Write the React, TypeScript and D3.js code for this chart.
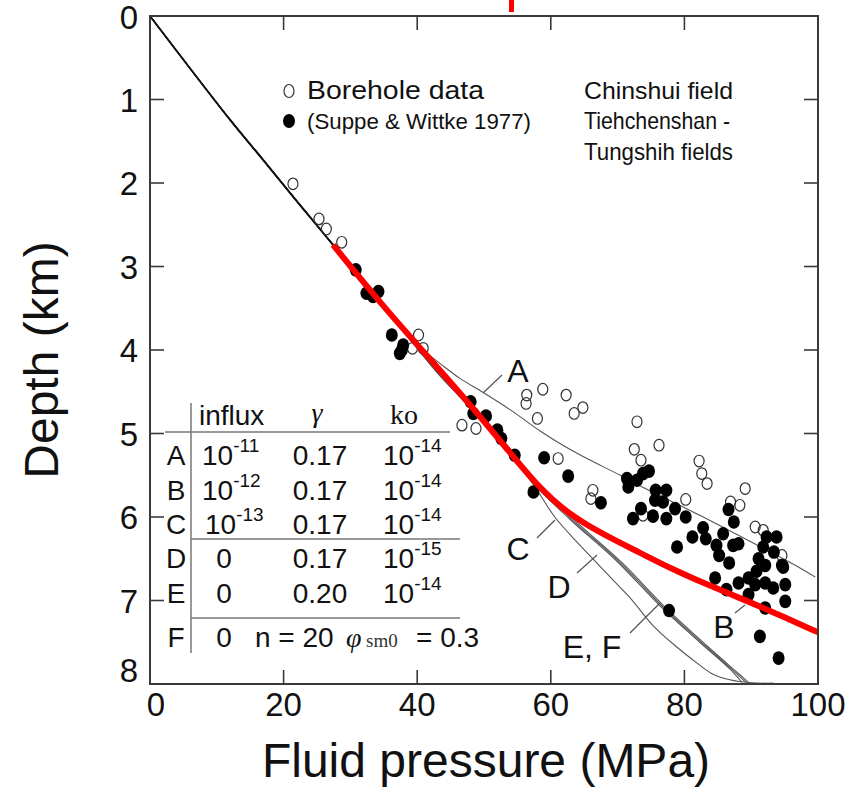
import React from 'react';
import * as d3 from 'd3';

type P = [number, number];

const xTicks = [0, 20, 40, 60, 80, 100];
const yTicks = [0, 1, 2, 3, 4, 5, 6, 7, 8];

// shared hydrostatic trunk of all model curves
const trunk: P[] = [[0, 0], [12, 1.245], [16.9, 1.72], [22, 2.22], [27.4, 2.74]];
const trunkLower: P[] = [[33, 3.3], [38, 3.78]];

const tailA: P[] = [[40.4, 3.97], [43.4, 4.16], [46.4, 4.34], [49.9, 4.51], [54, 4.72], [58.4, 4.97], [62, 5.15], [65.4, 5.3], [70.4, 5.5], [73.4, 5.63], [78, 5.81], [82.3, 5.98], [90, 6.3], [97.3, 6.61], [99.6, 6.72]];
const tailB: P[] = [[43.4, 4.24], [48.4, 4.68], [53.4, 5.16], [57.9, 5.64], [62.4, 5.95], [67.4, 6.18], [73.4, 6.43], [78.3, 6.63], [83.4, 6.81], [88.3, 6.97], [93.3, 7.14], [100, 7.38]];
const tailC: P[] = [[43, 4.27], [48.2, 4.72], [53, 5.17], [57.3, 5.6], [60.6, 6.0], [64.5, 6.35], [68.9, 6.72], [72, 6.98], [75.3, 7.3], [78.9, 7.56], [81.9, 7.75], [84, 7.87], [86.8, 7.95], [90, 7.985], [93.3, 7.99]];
const tailD: P[] = [[43, 4.27], [48.4, 4.72], [53.2, 5.17], [57.4, 5.6], [62.9, 6.03], [69.9, 6.53], [76.3, 7.06], [82.3, 7.5], [86.8, 7.82], [88.6, 7.98]];
const tailE: P[] = [[43.1, 4.27], [48.6, 4.72], [53.5, 5.17], [57.8, 5.6], [63.3, 6.04], [70.3, 6.54], [76.7, 7.07], [82.8, 7.52], [87.2, 7.83], [89.2, 7.98]];
const tailF: P[] = [[43.2, 4.27], [48.8, 4.72], [53.8, 5.17], [58.1, 5.6], [63.6, 6.04], [70.7, 6.55], [77.1, 7.08], [83.2, 7.53], [87.6, 7.84], [89.6, 7.98]];

const redFit: P[] = [[27.4, 2.74], [35, 3.49], [43.4, 4.24], [48.4, 4.7], [53.4, 5.18], [57.9, 5.62], [62.4, 5.95], [67.4, 6.19], [73.4, 6.43], [78.3, 6.63], [83.4, 6.81], [88.3, 6.97], [93.3, 7.14], [100, 7.38]];

const borehole: P[] = [
  [21.4, 2.01], [25.3, 2.43], [26.4, 2.55], [28.7, 2.71], [40.2, 3.82], [40.9, 3.98], [39.3, 3.98],
  [46.7, 4.9], [48.8, 4.94], [56.4, 4.54], [56.3, 4.64], [58.8, 4.47], [62.3, 4.54], [63.5, 4.76],
  [64.8, 4.69], [58.0, 4.82], [61.1, 5.3], [66.3, 5.68], [66.0, 5.78], [72.9, 4.86], [72.5, 5.19],
  [73.5, 5.32], [76.2, 5.14], [82.2, 5.33], [82.6, 5.48], [83.4, 5.6], [80.2, 5.79], [73.8, 5.98],
  [89.1, 5.66], [86.9, 5.82], [88.3, 5.86], [90.6, 6.12], [91.8, 6.16], [94.6, 6.46],
];

const suppe: P[] = [
  [30.8, 3.04], [32.4, 3.32], [33.4, 3.36], [34.2, 3.30], [36.2, 3.82], [37.7, 4.0], [37.9, 3.94], [37.4, 4.04],
  [48.0, 4.62], [48.4, 4.76], [50.3, 4.79], [52.0, 4.96], [52.6, 5.06], [54.6, 5.26], [59.0, 5.29],
  [62.6, 5.51], [57.4, 5.70], [67.5, 5.83],
  [71.4, 5.54], [71.6, 5.64], [72.9, 5.56], [73.8, 5.48], [74.7, 5.45], [72.3, 6.02], [73.5, 5.9],
  [75.3, 5.99], [75.7, 5.68], [77.3, 5.68], [75.6, 5.8], [76.8, 5.82], [77.3, 6.02], [78.6, 5.9],
  [80.2, 6.0], [78.9, 6.36], [81.2, 6.24], [82.8, 6.13], [83.2, 6.26], [84.8, 6.34], [85.8, 6.2],
  [86.6, 5.91], [87.4, 6.06], [85.2, 6.46], [86.7, 6.55], [87.3, 6.34], [88.1, 6.32], [92.3, 6.24],
  [93.8, 6.24], [91.8, 6.36], [93.4, 6.42], [91.1, 6.5], [92.1, 6.58], [94.6, 6.58],
  [84.6, 6.73], [86.3, 6.87], [88.1, 6.79], [89.6, 6.73], [90.8, 6.65], [94.8, 6.6], [90.6, 6.81],
  [92.1, 6.79], [93.3, 6.85], [95.1, 6.81], [89.6, 6.93], [92.1, 7.09], [95.1, 7.01], [91.3, 7.43],
  [94.1, 7.69], [77.7, 7.12],
];

const SANS = 'Liberation Sans, Arial, Helvetica, sans-serif';
const SERIF = 'Liberation Serif, Times New Roman, serif';

export default function App() {
  const W = 863, H = 801;
  const x = d3.scaleLinear().domain([0, 100]).range([150, 818]);
  const y = d3.scaleLinear().domain([0, 8]).range([16, 684]);
  const line = d3.line<P>().x(d => x(d[0])).y(d => y(d[1])).curve(d3.curveCatmullRom.alpha(0.5));
  const smooth = d3.line<P>().x(d => x(d[0])).y(d => y(d[1])).curve(d3.curveBasis);
  const full = (tail: P[]) => line([...trunk, ...trunkLower, ...tail]) || '';

  const frame = '#3a3a3a';
  const curveCol = '#555';
  const tl = 14;

  const sup = (base: string, exp: string, xx: number, yy: number) => (
    <text x={xx} y={yy} fontFamily={SANS} fontSize={28} fill="#111">
      {base}
      <tspan dy={-13} fontSize={19}>{exp}</tspan>
    </text>
  );

  const rows = [
    { l: 'A', yb: 465 }, { l: 'B', yb: 500 }, { l: 'C', yb: 534 },
    { l: 'D', yb: 568 }, { l: 'E', yb: 603 }, { l: 'F', yb: 647 },
  ];

  return (
    <svg width={W} height={H} style={{ position: 'absolute', left: 0, top: 0, background: '#fff' }}>
      <rect x={0} y={0} width={W} height={H} fill="#fff" />
      {/* red fragment at top (cut-off title) */}
      <rect x={509} y={0} width={5} height={12} fill="#ff0000" />

      {/* model curves */}
      <g fill="none" stroke={curveCol} strokeWidth={1.1}>
        <path d={full(tailA)} />
        <path d={full(tailB)} />
        <path d={full(tailC)} />
        <path d={full(tailD)} />
        <path d={full(tailE)} />
        <path d={full(tailF)} />
      </g>
      <path d={line(trunk) || ''} fill="none" stroke="#111" strokeWidth={2} />

      {/* leader lines */}
      <g stroke={curveCol} strokeWidth={1.2}>
        <line x1={483} y1={393} x2={502} y2={375} />
        <line x1={735} y1={613} x2={745} y2={605} />
        <line x1={537} y1={538} x2={555} y2={520} />
        <line x1={577} y1={573} x2={597} y2={555} />
        <line x1={630} y1={633} x2={660} y2={603} />
      </g>
      <g fontFamily={SANS} fontSize={32} fill="#111" textAnchor="middle">
        <text x={518} y={382}>A</text>
        <text x={724} y={638}>B</text>
        <text x={518} y={560}>C</text>
        <text x={559} y={598}>D</text>
        <text x={592} y={658}>E, F</text>
      </g>

      {/* data points */}
      <g fill="none" stroke="#333" strokeWidth={1.2}>
        {borehole.map((d, i) => (
          <ellipse key={'o' + i} cx={x(d[0])} cy={y(d[1])} rx={5} ry={5.8} />
        ))}
      </g>
      <g fill="#000">
        {suppe.map((d, i) => (
          <ellipse key={'f' + i} cx={x(d[0])} cy={y(d[1])} rx={6} ry={6.8} />
        ))}
      </g>

      {/* red fitted curve */}
      <path d={smooth(redFit) || ''} fill="none" stroke="#ff0000" strokeWidth={6} strokeLinecap="butt" />

      {/* frame */}
      <rect x={150} y={16} width={668} height={668} fill="none" stroke={frame} strokeWidth={2} />
      <g stroke={frame} strokeWidth={1.6}>
        {xTicks.slice(1, -1).map(t => (
          <g key={'xt' + t}>
            <line x1={x(t)} x2={x(t)} y1={684} y2={684 - tl} />
            <line x1={x(t)} x2={x(t)} y1={16} y2={16 + tl} />
          </g>
        ))}
        {yTicks.slice(1, -1).map(t => (
          <g key={'yt' + t}>
            <line x1={150} x2={150 + tl} y1={y(t)} y2={y(t)} />
            <line x1={818} x2={818 - tl} y1={y(t)} y2={y(t)} />
          </g>
        ))}
      </g>
      <g fontFamily={SANS} fontSize={33} fill="#111">
        {xTicks.map(t => (
          <text key={'xl' + t} x={x(t) + (t === 0 ? 6 : 0)} y={716} textAnchor="middle">{t}</text>
        ))}
        {yTicks.map(t => (
          <text key={'yl' + t} x={138} y={y(t) + 12 - (t === 8 ? 14 : 0) + (t === 0 ? 1 : 0)} textAnchor="end">{t}</text>
        ))}
      </g>
      <text x={486} y={777} textAnchor="middle" fontFamily={SANS} fontSize={48} fill="#111">Fluid pressure (MPa)</text>
      <text transform="translate(58,360) rotate(-90)" textAnchor="middle" fontFamily={SANS} fontSize={48} fill="#111">Depth (km)</text>

      {/* legend */}
      <ellipse cx={289} cy={91} rx={5} ry={6.5} fill="none" stroke="#333" strokeWidth={1.2} />
      <ellipse cx={289} cy={121} rx={6} ry={7} fill="#000" />
      <text x={307} y={99} fontFamily={SANS} fontSize={26} fill="#111" textLength={177} lengthAdjust="spacingAndGlyphs">Borehole data</text>
      <text x={307} y={129} fontFamily={SANS} fontSize={22} fill="#111" textLength={224} lengthAdjust="spacingAndGlyphs">(Suppe &amp; Wittke 1977)</text>
      <g fontFamily={SANS} fontSize={24} fill="#111">
        <text x={584} y={99} textLength={149} lengthAdjust="spacingAndGlyphs">Chinshui field</text>
        <text x={584} y={129} textLength={146} lengthAdjust="spacingAndGlyphs">Tiehchenshan -</text>
        <text x={584} y={160} textLength={149} lengthAdjust="spacingAndGlyphs">Tungshih fields</text>
      </g>

      {/* parameter table */}
      <g stroke="#777" strokeWidth={1.5}>
        <line x1={191} x2={191} y1={403} y2={653} />
        <line x1={165} x2={450} y1={432} y2={432} />
        <line x1={191} x2={460} y1={539} y2={539} />
        <line x1={191} x2={460} y1={618} y2={618} />
      </g>
      <text x={199} y={425} fontFamily={SANS} fontSize={28} fill="#111">influx</text>
      <text x={317} y={422} textAnchor="middle" fontFamily={SERIF} fontStyle="italic" fontSize={28} fill="#111">γ</text>
      <text x={404} y={424} textAnchor="middle" fontFamily={SERIF} fontSize={28} fill="#111">ko</text>
      <g fontFamily={SANS} fontSize={28} fill="#111" textAnchor="middle">
        {rows.map(r => <text key={r.l} x={176} y={r.yb}>{r.l}</text>)}
        <text x={224} y={568}>0</text>
        <text x={224} y={603}>0</text>
        <text x={224} y={647}>0</text>
        <text x={320} y={465}>0.17</text>
        <text x={320} y={500}>0.17</text>
        <text x={320} y={534}>0.17</text>
        <text x={320} y={568}>0.17</text>
        <text x={320} y={603}>0.20</text>
      </g>
      {sup('10', '-11', 202, 465)}
      {sup('10', '-12', 202, 500)}
      {sup('10', '-13', 205, 534)}
      {sup('10', '-14', 383, 465)}
      {sup('10', '-14', 383, 500)}
      {sup('10', '-14', 383, 534)}
      {sup('10', '-15', 383, 568)}
      {sup('10', '-14', 383, 603)}
      <text x={255} y={647} fontFamily={SANS} fontSize={28} fill="#111">n = 20</text>
      <text x={346} y={647} fontFamily={SERIF} fontStyle="italic" fontSize={28} fill="#111">φ</text>
      <text x={366} y={647} fontFamily={SERIF} fontSize={19} fill="#333">sm0</text>
      <text x={416} y={647} fontFamily={SANS} fontSize={28} fill="#111">= 0.3</text>
    </svg>
  );
}
